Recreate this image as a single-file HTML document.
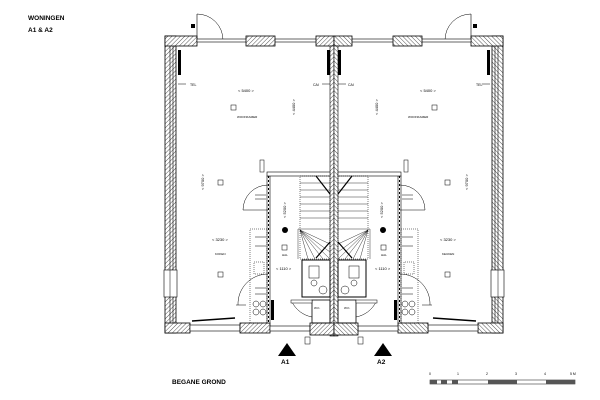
<!DOCTYPE html>
<html><head><meta charset="utf-8"><style>
html,body{margin:0;padding:0;background:#fff;}
svg{display:block;font-family:"Liberation Sans",sans-serif;}
</style></head><body>
<svg width="600" height="400" viewBox="0 0 600 400" xmlns="http://www.w3.org/2000/svg">
<defs>
<pattern id="h" width="3" height="3" patternUnits="userSpaceOnUse" patternTransform="rotate(45)">
<rect width="3" height="3" fill="#fff"/><line x1="0" y1="0" x2="0" y2="3" stroke="#555" stroke-width="1"/>
</pattern>
<g id="half">
  <!-- left outer wall -->
  <rect x="165" y="36" width="11" height="297" fill="url(#h)" stroke="#000" stroke-width="0.8"/>
  <line x1="170" y1="46" x2="170" y2="323" stroke="#000" stroke-width="0.6"/>
  <line x1="173" y1="46" x2="173" y2="323" stroke="#000" stroke-width="0.6"/>
  <!-- top corner wall -->
  <rect x="165" y="36" width="32" height="10" fill="url(#h)" stroke="#000" stroke-width="0.8"/>
  <!-- door top -->
  <line x1="197" y1="40" x2="197" y2="14" stroke="#000" stroke-width="0.6"/>
  <path d="M197 14 A26 26 0 0 1 223 40" fill="none" stroke="#000" stroke-width="0.5"/>
  <rect x="191" y="24" width="4" height="4" fill="#000"/>
  <!-- thin facade -->
  <rect x="197" y="39" width="137" height="3" fill="#fff" stroke="#000" stroke-width="0.6"/>
  <rect x="246" y="36" width="29" height="10" fill="url(#h)" stroke="#000" stroke-width="0.8"/>
  <rect x="316" y="36" width="18" height="10" fill="url(#h)" stroke="#000" stroke-width="0.8"/>
  <!-- radiators -->
  <rect x="178" y="50" width="3" height="25" fill="#000"/>
  <rect x="327" y="50" width="3" height="25" fill="#000"/>
  <!-- center party wall -->
  <rect x="330" y="46" width="4" height="290" fill="url(#h)" stroke="#000" stroke-width="0.6"/>
  <!-- left window in side wall -->
  <rect x="164" y="270" width="13" height="27" fill="#fff" stroke="#000" stroke-width="0.6"/>
  <line x1="170" y1="270" x2="170" y2="297" stroke="#000" stroke-width="0.5"/>
  <!-- bottom wall -->
  <rect x="165" y="323" width="25" height="10" fill="url(#h)" stroke="#000" stroke-width="0.8"/>
  <rect x="190" y="325" width="50" height="6" fill="#fff" stroke="#000" stroke-width="0.6"/>
  <line x1="192" y1="321" x2="235" y2="318" stroke="#000" stroke-width="1.5"/>
  <rect x="240" y="323" width="30" height="10" fill="url(#h)" stroke="#000" stroke-width="0.8"/>
  <rect x="270" y="326" width="40" height="5" fill="#fff" stroke="#000" stroke-width="0.6"/>
  <rect x="310" y="323" width="24" height="12" fill="url(#h)" stroke="#000" stroke-width="0.8"/>
  <!-- hall partition -->
  <rect x="267" y="176" width="3" height="147" fill="#fff" stroke="#000" stroke-width="0.6"/>
  <line x1="268.5" y1="176" x2="268.5" y2="323" stroke="#000" stroke-width="1" stroke-dasharray="2,2"/>
  <rect x="267" y="172" width="63" height="4" fill="#fff" stroke="#000" stroke-width="0.6"/>
  <!-- hall door arc -->
  <path d="M268 185 A25 25 0 0 0 243 210 L268 210" fill="none" stroke="#000" stroke-width="0.5"/>
  <path d="M268 274 A30 30 0 0 0 238 305" fill="none" stroke="#000" stroke-width="0.5"/>
  <path d="M292 302 A28 28 0 0 0 312 317" fill="none" stroke="#000" stroke-width="0.5"/>
  <!-- kitchen dotted -->
  <rect x="250" y="229" width="17" height="94" fill="none" stroke="#000" stroke-width="0.5" stroke-dasharray="1,1"/>
  <rect x="254" y="262" width="10" height="12" fill="none" stroke="#000" stroke-width="0.5" stroke-dasharray="1,1"/>
  <circle cx="256" cy="304" r="3" fill="none" stroke="#000" stroke-width="0.5"/>
  <circle cx="263" cy="304" r="3" fill="none" stroke="#000" stroke-width="0.5"/>
  <circle cx="256" cy="312" r="3" fill="none" stroke="#000" stroke-width="0.5"/>
  <circle cx="263" cy="312" r="3" fill="none" stroke="#000" stroke-width="0.5"/>
  <rect x="271" y="300" width="3" height="20" fill="#000"/>
  <!-- stairs -->
  <rect x="300" y="176" width="30" height="83" fill="none" stroke="#000" stroke-width="0.5" stroke-dasharray="1,1"/>
  <g stroke="#000" stroke-width="0.4">
    <line x1="300" y1="183" x2="330" y2="183"/><line x1="300" y1="190" x2="330" y2="190"/>
    <line x1="300" y1="197" x2="330" y2="197"/><line x1="300" y1="204" x2="330" y2="204"/>
    <line x1="300" y1="211" x2="330" y2="211"/><line x1="300" y1="218" x2="330" y2="218"/>
    <line x1="298" y1="229" x2="330" y2="229"/>
    <line x1="298" y1="229" x2="298" y2="259"/>
    <line x1="300" y1="230" x2="330" y2="259"/><line x1="300" y1="230" x2="323" y2="259"/>
    <line x1="300" y1="230" x2="315" y2="259"/><line x1="300" y1="230" x2="330" y2="252"/>
    <line x1="300" y1="230" x2="330" y2="244"/><line x1="300" y1="230" x2="308" y2="259"/>
  </g>
  <line x1="316" y1="176" x2="330" y2="194" stroke="#000" stroke-width="1.2"/>
  <line x1="316" y1="258" x2="330" y2="242" stroke="#000" stroke-width="1.2"/>
  <!-- toilet rooms -->
  <rect x="302" y="260" width="28" height="37" fill="none" stroke="#000" stroke-width="1"/>
  <rect x="309" y="266" width="10" height="12" fill="none" stroke="#000" stroke-width="0.5"/>
  <circle cx="314" cy="283" r="3" fill="none" stroke="#000" stroke-width="0.5"/>
  <rect x="312" y="300" width="18" height="23" fill="none" stroke="#000" stroke-width="0.8"/>
  <rect x="291" y="300" width="21" height="3" fill="#fff" stroke="#000" stroke-width="0.5"/>
  <circle cx="323" cy="290" r="4" fill="none" stroke="#000" stroke-width="0.5"/>
  <!-- small symbols -->
  <circle cx="285" cy="230" r="3" fill="#000"/>
  <rect x="282" y="245" width="5" height="5" fill="none" stroke="#000" stroke-width="0.5"/>
  <rect x="231" y="105" width="5" height="5" fill="none" stroke="#000" stroke-width="0.5"/>
  <rect x="218" y="180" width="5" height="5" fill="none" stroke="#000" stroke-width="0.5"/>
  <rect x="218" y="272" width="5" height="5" fill="none" stroke="#000" stroke-width="0.5"/>
  <rect x="260" y="160" width="4" height="12" fill="none" stroke="#000" stroke-width="0.5"/>
  <rect x="305" y="337" width="5" height="7" fill="none" stroke="#000" stroke-width="0.5"/>
  <g stroke="#000" stroke-width="0.5">
    <line x1="178" y1="84" x2="186" y2="84"/><line x1="322" y1="84" x2="330" y2="84"/>
    <line x1="255" y1="195" x2="266" y2="195"/><line x1="255" y1="199" x2="266" y2="199"/>
    <line x1="255" y1="237" x2="266" y2="237"/><line x1="255" y1="246" x2="266" y2="246"/>
    <line x1="255" y1="288" x2="266" y2="288"/><line x1="255" y1="294" x2="266" y2="294"/>
    <line x1="236" y1="305" x2="246" y2="305"/>
  </g>
</g>
</defs>
<rect width="600" height="400" fill="#fff"/>
<use href="#half"/>
<use href="#half" transform="translate(668,0) scale(-1,1)"/>
<!-- section triangles -->
<polygon points="278,356 287,343 296,356" fill="#000"/>
<polygon points="374,356 383,343 392,356" fill="#000"/>
<g font-weight="bold" fill="#000">
<text x="28" y="20" font-size="6.5">WONINGEN</text>
<text x="28" y="32" font-size="6.5">A1 &amp; A2</text>
<text x="281" y="364" font-size="6.5">A1</text>
<text x="377" y="364" font-size="6.5">A2</text>
<text x="172" y="384" font-size="6.5">BEGANE GROND</text>
</g>
<g font-size="4" fill="#000">
<text x="238" y="92">&lt; 5400 &gt;</text>
<text x="420" y="92">&lt; 5400 &gt;</text>
<text x="237" y="118" font-size="3">WOONKAMER</text>
<text x="408" y="118" font-size="3">WOONKAMER</text>
<text x="190" y="86" font-size="3.5">TEL</text>
<text x="476" y="86" font-size="3.5">TEL</text>
<text x="313" y="86" font-size="3.5">CAI</text>
<text x="348" y="86" font-size="3.5">CAI</text>
<text x="212" y="241">&lt; 3230 &gt;</text>
<text x="440" y="241">&lt; 3230 &gt;</text>
<text x="215" y="255" font-size="3">KOKEN</text>
<text x="442" y="255" font-size="3">KEUKEN</text>
<text x="276" y="270">&lt; 1110 &gt;</text>
<text x="375" y="270">&lt; 1110 &gt;</text>
<text x="282" y="256" font-size="3">HAL</text>
<text x="381" y="256" font-size="3">HAL</text>
<text transform="translate(295,115) rotate(-90)">&lt; 4400 &gt;</text>
<text transform="translate(378,115) rotate(-90)">&lt; 4400 &gt;</text>
<text transform="translate(204,190) rotate(-90)">&lt; 9700 &gt;</text>
<text transform="translate(468,190) rotate(-90)">&lt; 9700 &gt;</text>
<text transform="translate(286,218) rotate(-90)">&lt; 5200 &gt;</text>
<text transform="translate(383,218) rotate(-90)">&lt; 5200 &gt;</text>
<text x="314" y="309" font-size="3">W.K.</text>
<text x="344" y="309" font-size="3">W.K.</text>
</g>
<!-- scale bar -->
<rect x="430" y="380" width="145" height="4" fill="#fff" stroke="#333" stroke-width="0.6"/>
<g fill="#555">
<rect x="430" y="380" width="7" height="4"/><rect x="441" y="380" width="6" height="4"/><rect x="452" y="380" width="6" height="4"/>
<rect x="488" y="380" width="29" height="4"/><rect x="546" y="380" width="29" height="4"/>
</g>
<g font-size="3.5" fill="#000">
<text x="429" y="375">0</text><text x="457" y="375">1</text><text x="486" y="375">2</text>
<text x="515" y="375">3</text><text x="544" y="375">4</text><text x="570" y="375">5 M</text>
</g>
</svg>
</body></html>
